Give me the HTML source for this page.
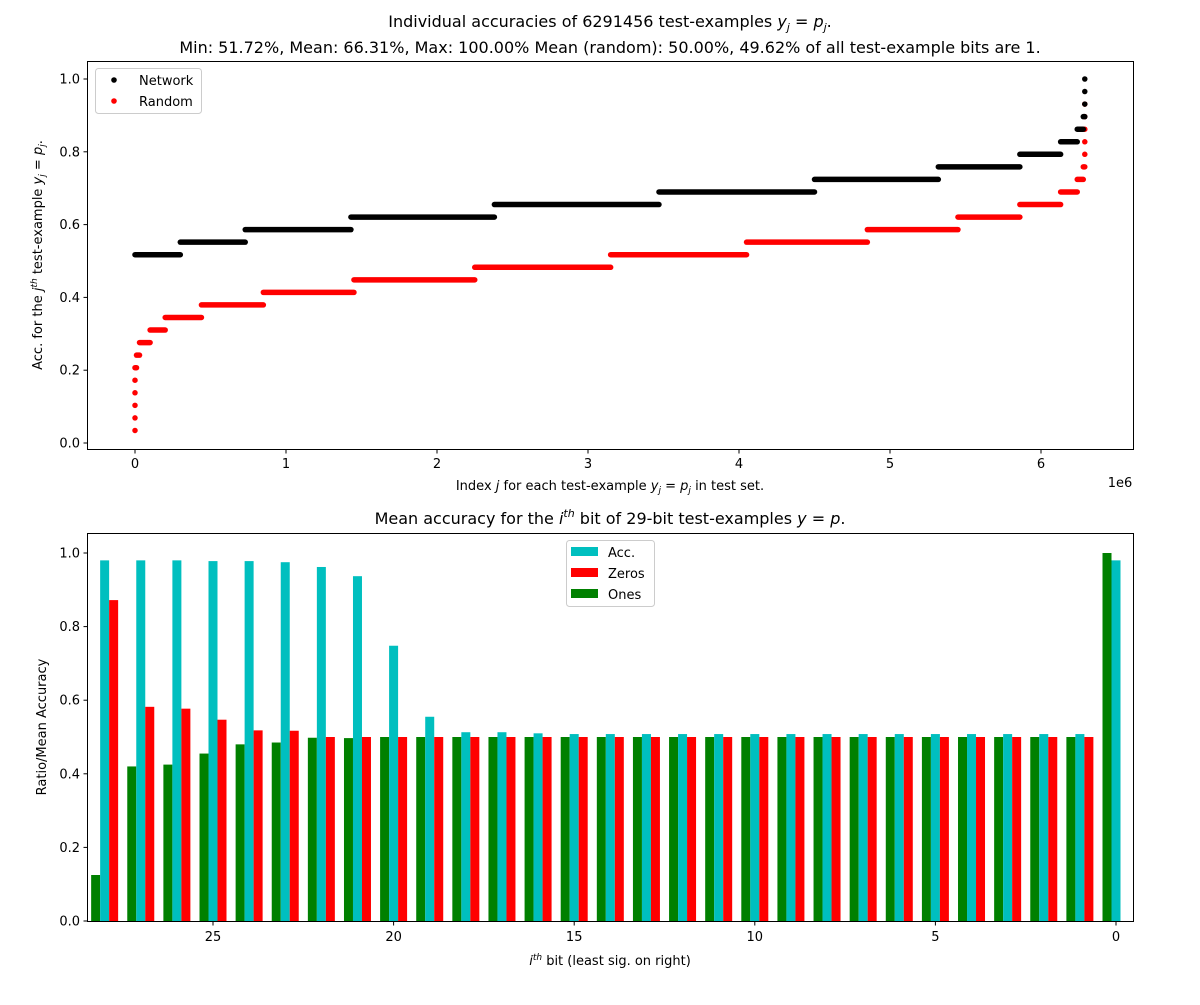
<!DOCTYPE html>
<html><head><meta charset="utf-8"><style>
body{margin:0;background:#fff}
svg text{font-family:"DejaVu Sans","Liberation Sans",sans-serif;fill:#000}
</style></head><body>
<svg id="fig" width="1200" height="1000" xmlns="http://www.w3.org/2000/svg">
<rect width="1200" height="1000" fill="#fff"/>
<g id="topchart"></g>
<g id="botchart"></g>
</svg>
<script>
// ---- top chart data (x in millions, y = accuracy) ----
const netStarts = [0, 0.30, 0.73, 1.43, 2.38, 3.47, 4.50, 5.32, 5.86, 6.13, 6.24, 6.28, 6.29, 6.29, 6.29];
const netEnds   = [0.30, 0.73, 1.43, 2.38, 3.47, 4.50, 5.32, 5.86, 6.13, 6.24, 6.28, 6.29, 6.29, 6.29, 6.29];
const netLevels = [15,16,17,18,19,20,21,22,23,24,25,26,27,28,29];
const rndStarts = [0,0,0,0,0,0,0.01,0.03,0.10,0.20,0.44,0.85,1.45,2.25,3.15,4.05,4.85,5.45,5.86,6.13,6.24,6.28,6.29,6.29,6.29,6.29,6.29];
const rndEnds   = [0,0,0,0,0,0.01,0.03,0.10,0.20,0.44,0.85,1.45,2.25,3.15,4.05,4.85,5.45,5.86,6.13,6.24,6.28,6.29,6.29,6.29,6.29,6.29,6.29];
const rndLevels = [1,2,3,4,5,6,7,8,9,10,11,12,13,14,15,16,17,18,19,20,21,22,23,24,25,26,27];
const topXTicks = [0,1,2,3,4,5,6];
const topYTicks = [0.0,0.2,0.4,0.6,0.8,1.0];
// ---- bottom chart data (bits 28..0) ----
const bits = [28,27,26,25,24,23,22,21,20,19,18,17,16,15,14,13,12,11,10,9,8,7,6,5,4,3,2,1,0];
const onesVals = [0.125,0.42,0.425,0.455,0.48,0.485,0.498,0.497,0.5,0.5,0.5,0.5,0.5,0.5,0.5,0.5,0.5,0.5,0.5,0.5,0.5,0.5,0.5,0.5,0.5,0.5,0.5,0.5,1.0];
const accVals  = [0.98,0.98,0.98,0.978,0.978,0.975,0.962,0.937,0.748,0.555,0.513,0.513,0.51,0.508,0.508,0.508,0.508,0.508,0.508,0.508,0.508,0.508,0.508,0.508,0.508,0.508,0.508,0.508,0.98];
const zeroVals = [0.872,0.582,0.577,0.547,0.518,0.517,0.5,0.5,0.5,0.5,0.5,0.5,0.5,0.5,0.5,0.5,0.5,0.5,0.5,0.5,0.5,0.5,0.5,0.5,0.5,0.5,0.5,0.5,0];
const botXTicks = [25,20,15,10,5,0];
const botYTicks = [0.0,0.2,0.4,0.6,0.8,1.0];

const NS="http://www.w3.org/2000/svg";
function mk(parent,tag,attrs,text){const e=document.createElementNS(NS,tag);for(const k in attrs)e.setAttribute(k,attrs[k]);if(text!==undefined)e.textContent=text;parent.appendChild(e);return e;}

const topG=document.getElementById('topchart'), botG=document.getElementById('botchart');
const tx=v=>135+v*151, ty=a=>443-a*364;
const bx=b=>1116-b*36.12, by=a=>921-a*368;

let e;
e=mk(topG,'text',{x:610,y:27,'font-size':16,'text-anchor':'middle'});


e.innerHTML='Individual accuracies of 6291456 test-examples <tspan font-style="italic">y</tspan><tspan font-size="11" dy="4" font-style="italic">j</tspan><tspan dy="-4"> = </tspan><tspan font-style="italic">p</tspan><tspan font-size="11" dy="4" font-style="italic">j</tspan><tspan dy="-4">.</tspan>';
e=mk(topG,'text',{x:610,y:53,'font-size':16,'text-anchor':'middle'},'Min: 51.72%, Mean: 66.31%, Max: 100.00% Mean (random): 50.00%, 49.62% of all test-example bits are 1.');



function series(arrS,arrE,arrL,color,name){
  const g=mk(topG,'g',{});
  
  
  for(let i=0;i<arrL.length;i++){
    const y=ty(arrL[i]/29);
    const l=mk(g,'line',{x1:tx(arrS[i]),x2:tx(arrE[i]),y1:y,y2:y,stroke:color,'stroke-width':5.5,'stroke-linecap':'round'});
    
    
  }
}
series(rndStarts,rndEnds,rndLevels,'#ff0000','random-series');
series(netStarts,netEnds,netLevels,'#000000','network-series');

e=mk(topG,'rect',{x:87.5,y:61.5,width:1046,height:388,fill:'none',stroke:'#000','stroke-width':1});


topXTicks.forEach(v=>{
  mk(topG,'line',{x1:tx(v),x2:tx(v),y1:449.5,y2:453.5,stroke:'#000'});
  e=mk(topG,'text',{x:tx(v),y:468,'font-size':13,'text-anchor':'middle'},String(v));
  
  
});
topYTicks.forEach(v=>{
  mk(topG,'line',{x1:83.5,x2:87.5,y1:ty(v),y2:ty(v),stroke:'#000'});
  e=mk(topG,'text',{x:80,y:ty(v)+4.5,'font-size':13,'text-anchor':'end'},v.toFixed(1));
  
  
});
e=mk(topG,'text',{x:1120,y:487,'font-size':13,'text-anchor':'middle'},'1e6');


e=mk(topG,'text',{x:610,y:490,'font-size':13,'text-anchor':'middle'});


e.innerHTML='Index <tspan font-style="italic">j</tspan> for each test-example <tspan font-style="italic">y</tspan><tspan font-size="9" dy="3" font-style="italic">j</tspan><tspan dy="-3"> = </tspan><tspan font-style="italic">p</tspan><tspan font-size="9" dy="3" font-style="italic">j</tspan><tspan dy="-3"> in test set.</tspan>';
e=mk(topG,'text',{x:0,y:0,'font-size':13,'text-anchor':'middle',transform:'translate(42,255) rotate(-90)'});


e.innerHTML='Acc. for the <tspan font-style="italic">j</tspan><tspan font-size="9" dy="-5" font-style="italic">th</tspan><tspan dy="5"> test-example </tspan><tspan font-style="italic">y</tspan><tspan font-size="9" dy="3" font-style="italic">j</tspan><tspan dy="-3"> = </tspan><tspan font-style="italic">p</tspan><tspan font-size="9" dy="3" font-style="italic">j</tspan><tspan dy="-3">.</tspan>';
const tl=mk(topG,'g',{});


mk(tl,'rect',{x:95.5,y:68.5,width:106,height:45,rx:3,fill:'#fff',stroke:'#ccc'});
mk(tl,'circle',{cx:114,cy:80,r:2.8,fill:'#000'});
e=mk(tl,'text',{x:139,y:85,'font-size':13},'Network');


mk(tl,'circle',{cx:114,cy:101,r:2.8,fill:'#f00'});
e=mk(tl,'text',{x:139,y:106,'font-size':13},'Random');



// bottom chart
e=mk(botG,'text',{x:610,y:524,'font-size':16,'text-anchor':'middle'});


e.innerHTML='Mean accuracy for the <tspan font-style="italic">i</tspan><tspan font-size="11" dy="-7" font-style="italic">th</tspan><tspan dy="7"> bit of 29-bit test-examples </tspan><tspan font-style="italic">y</tspan> = <tspan font-style="italic">p</tspan>.';
const W=9;
function bars(vals,off,color,name){
  const g=mk(botG,'g',{});
  
  
  bits.forEach((b,i)=>{
    const x=bx(b)+off-W/2, y=by(vals[i]);
    const r=mk(g,'rect',{x:x,y:y,width:W,height:921-y,fill:color});
    
    
  });
}
bars(onesVals,-9,'#008000','ones-series');
bars(accVals,0,'#00bfbf','acc-series');
bars(zeroVals,9,'#ff0000','zeros-series');
e=mk(botG,'rect',{x:87.5,y:533.5,width:1046,height:388,fill:'none',stroke:'#000'});


botXTicks.forEach(v=>{
  mk(botG,'line',{x1:bx(v),x2:bx(v),y1:921.5,y2:925.5,stroke:'#000'});
  e=mk(botG,'text',{x:bx(v),y:941,'font-size':13,'text-anchor':'middle'},String(v));
  
  
});
botYTicks.forEach(v=>{
  mk(botG,'line',{x1:83.5,x2:87.5,y1:by(v),y2:by(v),stroke:'#000'});
  e=mk(botG,'text',{x:80,y:by(v)+4.5,'font-size':13,'text-anchor':'end'},v.toFixed(1));
  
  
});
e=mk(botG,'text',{x:610,y:965,'font-size':13,'text-anchor':'middle'});


e.innerHTML='<tspan font-style="italic">i</tspan><tspan font-size="9" dy="-5" font-style="italic">th</tspan><tspan dy="5"> bit (least sig. on right)</tspan>';
e=mk(botG,'text',{x:0,y:0,'font-size':13,'text-anchor':'middle',transform:'translate(46,727) rotate(-90)'},'Ratio/Mean Accuracy');


const bl=mk(botG,'g',{});


mk(bl,'rect',{x:566.5,y:540.5,width:88,height:66,rx:3,fill:'#fff',stroke:'#ccc'});
[['Acc.','#00bfbf'],['Zeros','#ff0000'],['Ones','#008000']].forEach((d,i)=>{
  mk(bl,'rect',{x:571,y:547+i*21,width:27,height:9,fill:d[1]});
  e=mk(bl,'text',{x:608,y:557+i*21,'font-size':13},d[0]);
  
  
});
</script>
</body></html>
